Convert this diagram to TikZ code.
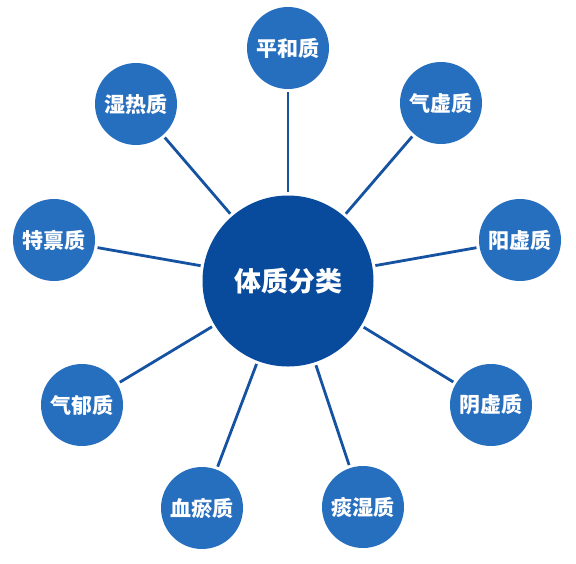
\documentclass[tikz,border=0pt]{standalone}
\usepackage{fontspec}
\newfontfamily\cjk{Noto Sans CJK SC}
\definecolor{outerblue}{RGB}{38,110,190}
\definecolor{innerblue}{RGB}{8,74,156}
\definecolor{linkblue}{RGB}{22,82,162}
\tikzset{
  leaf/.style={circle, fill=outerblue, minimum size=82pt, inner sep=0pt, text=white, font=\cjk\bfseries\fontsize{21pt}{24pt}\selectfont},
  hub/.style={circle, fill=innerblue, minimum size=171pt, inner sep=0pt, text=white, font=\cjk\bfseries\fontsize{27pt}{30pt}\selectfont},
  link/.style={draw=linkblue, line width=2.8pt, shorten <=3pt, shorten >=3pt}
}
\begin{document}
\begin{tikzpicture}[x=1pt,y=-1pt]
\useasboundingbox (0,0) rectangle (576,563);
\node[hub] (c) at (288,281) {体质分类};
\node[leaf] (n1) at (288,48) {平和质};
\node[leaf] (n2) at (441,103) {气虚质};
\node[leaf] (n3) at (520,240) {阳虚质};
\node[leaf] (n4) at (491,405) {阴虚质};
\node[leaf] (n5) at (363,507) {痰湿质};
\node[leaf] (n6) at (202,508) {血瘀质};
\node[leaf] (n7) at (82,405) {气郁质};
\node[leaf] (n8) at (54,240) {特禀质};
\node[leaf] (n9) at (136,104) {湿热质};
\foreach \n in {n1,n2,n3,n4,n5,n6,n7,n8,n9}{
  \draw[link] (c) -- (\n);
}
\end{tikzpicture}
\end{document}
